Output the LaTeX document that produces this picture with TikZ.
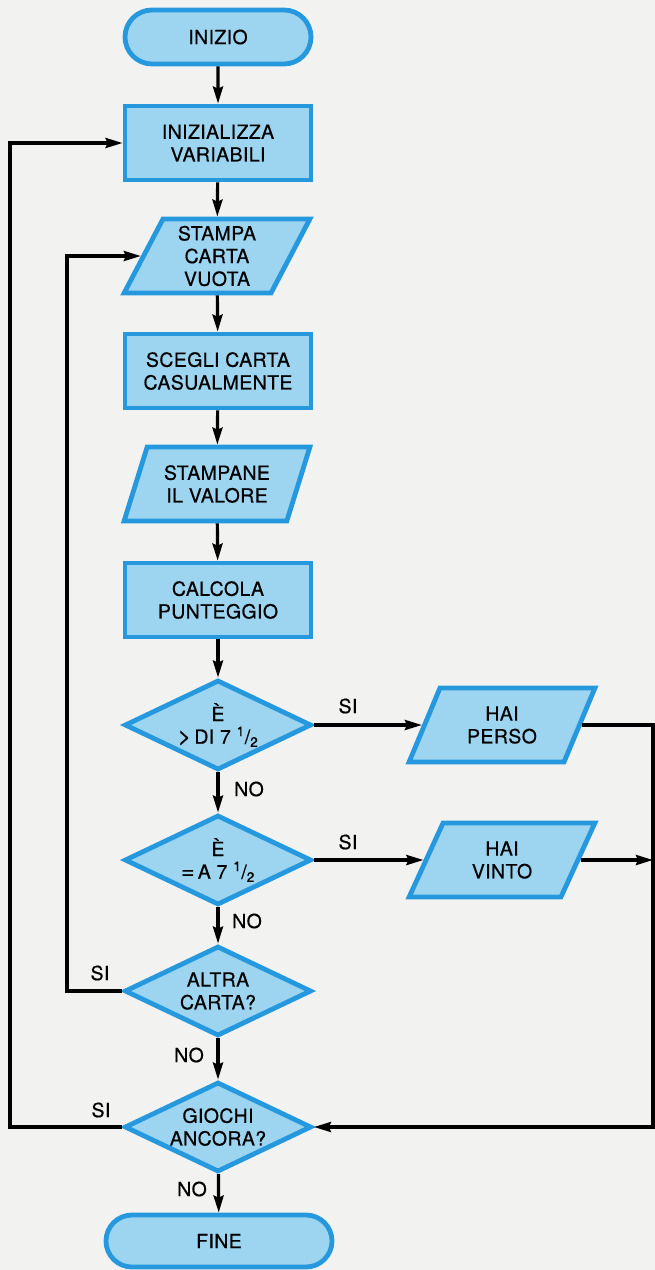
\documentclass[tikz,border=0pt]{standalone}
\usepackage{fontspec}
\setmainfont{TeX Gyre Heros}[LetterSpace=2,FakeBold=0.5]
\usetikzlibrary{shapes.geometric,shapes.misc,arrows.meta}
\definecolor{fillc}{RGB}{157,213,240}
\definecolor{bordc}{RGB}{38,153,222}
\definecolor{bgc}{RGB}{242,242,240}
\tikzset{
  box/.style={draw=bordc,fill=fillc,line width=4.8pt,align=center,inner sep=0pt,
    font=\fontsize{19.5}{22.7}\selectfont},
  term/.style={box,rounded rectangle,minimum width=186pt,minimum height=54pt},
  proc/.style={box,rectangle,minimum width=186pt,minimum height=74pt},
  io/.style={box,trapezium,trapezium left angle=65,trapezium right angle=115,
    trapezium stretches=true,minimum width=186pt,minimum height=74pt},
  dec/.style={box,diamond,aspect=2,minimum width=187pt,minimum height=90pt},
  arr/.style={line width=3.2pt,-{Stealth[length=17pt,width=10pt,inset=2pt]}},
  lbl/.style={font=\fontsize{19.5}{22.7}\selectfont,inner sep=0pt}
}
\newcommand{\bigsym}[1]{{\fontsize{23}{22.7}\selectfont #1}}
\begin{document}
\begin{tikzpicture}[x=1pt,y=-1pt]
\fill[bgc] (0,0) rectangle (655,1270);
\useasboundingbox (0,0) rectangle (655,1270);
\node[term] (start) at (218,37) {INIZIO};
\node[proc] (init) at (218,143) {INIZIALIZZA\\VARIABILI};
\node[io] (p1) at (217,256) {STAMPA\\CARTA\\VUOTA};
\node[proc] (pick) at (218,371) {SCEGLI CARTA\\CASUALMENTE};
\node[io] (p2) at (217,484) {STAMPANE\\IL VALORE};
\node[proc] (calc) at (218,600) {CALCOLA\\PUNTEGGIO};
\node[dec] (d1) at (218,725) {È\\\bigsym{>}\,DI 7 \textsuperscript{1}/\textsubscript{2}};
\node[dec] (d2) at (218,860) {È\\\bigsym{=}\,A 7 \textsuperscript{1}/\textsubscript{2}};
\node[dec] (d3) at (218,991) {ALTRA\\CARTA?};
\node[dec] (d4) at (218,1127) {GIOCHI\\ANCORA?};
\node[term,minimum width=226pt,minimum height=52pt] (fine) at (219,1241) {FINE};
\node[io] (hp) at (502,725) {HAI\\PERSO};
\node[io] (hv) at (502,860) {HAI\\VINTO};
\coordinate (xr) at (653,0);
\coordinate (xl1) at (67,0);
\coordinate (xl2) at (10,0);
\draw[arr] (start) -- (init);
\draw[arr] (init) -- (p1);
\draw[arr] (p1) -- (pick);
\draw[arr] (pick) -- (p2);
\draw[arr] (p2) -- (calc);
\draw[arr] (calc) -- (d1);
\draw[arr] (d1) -- (d2);
\draw[arr] (d2) -- (d3);
\draw[arr] (d3) -- (d4);
\draw[arr] (d4) -- (fine);
\draw[arr] (d1.east) -- (hp.left side);
\draw[arr] (d2.east) -- (hv.left side);
\draw[arr] (hp.right side) -- (hp.right side -| xr) |- (d4.east);
\draw[arr] (hv.right side) -- (hv.right side -| xr);
\draw[arr] (d3.west) -- (d3.west -| xl1) |- (p1.left side);
\draw[arr] (d4.west) -- (d4.west -| xl2) |- (init.west);
\node[lbl] (s1) at (348,706) {SI};
\node[lbl] (n1) at (249,789) {NO};
\node[lbl] (s2) at (348,842) {SI};
\node[lbl] (n2) at (247,921) {NO};
\node[lbl] (s3) at (100,973) {SI};
\node[lbl] (n3) at (189,1055) {NO};
\node[lbl] (s4) at (101,1110) {SI};
\node[lbl] (n4) at (192,1189) {NO};
\end{tikzpicture}
\end{document}
